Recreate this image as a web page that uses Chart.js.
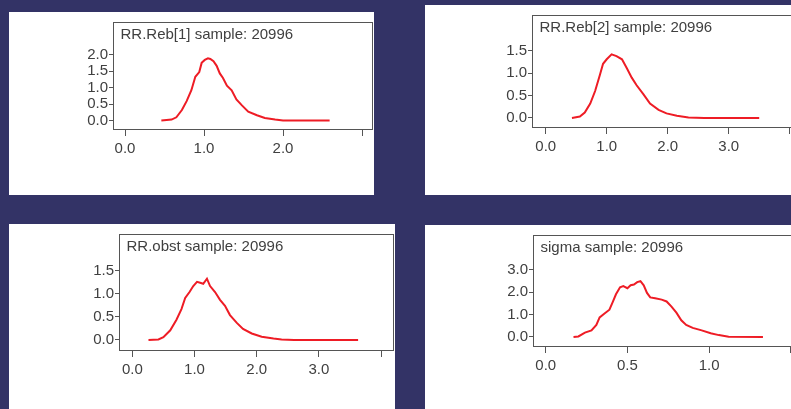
<!DOCTYPE html>
<html>
<head>
<meta charset="utf-8">
<script src="https://cdn.jsdelivr.net/npm/chart.js"></script>
<style>
  html, body { margin: 0; padding: 0; }
  body { width: 791px; height: 409px; background: #333366; overflow: hidden; position: relative; }
  .panel { position: absolute; background: #fff; overflow: hidden; }
  .panel canvas { display: block; }
</style>
</head>
<body>
<div class="panel" id="p1" style="left:9px;top:12px;width:365px;height:183px"><canvas id="c1" width="365" height="183"></canvas></div>
<div class="panel" id="p2" style="left:425px;top:5px;width:370px;height:190px"><canvas id="c2" width="370" height="190"></canvas></div>
<div class="panel" id="p3" style="left:9px;top:224px;width:386px;height:185px"><canvas id="c3" width="386" height="185"></canvas></div>
<div class="panel" id="p4" style="left:425px;top:225px;width:370px;height:184px"><canvas id="c4" width="370" height="184"></canvas></div>
<script>
// density estimates
const reb1X = [0.46, 0.59, 0.65, 0.72, 0.78, 0.84, 0.89, 0.94, 0.97, 1.01, 1.05, 1.08, 1.12, 1.16, 1.20, 1.24, 1.29, 1.35, 1.41, 1.48, 1.56, 1.67, 1.77, 1.90, 2.00, 2.59];
const reb1Y = [0.00, 0.03, 0.10, 0.32, 0.59, 0.92, 1.33, 1.47, 1.75, 1.84, 1.89, 1.87, 1.80, 1.66, 1.43, 1.29, 1.06, 0.92, 0.64, 0.46, 0.27, 0.16, 0.08, 0.03, 0.00, 0.00];

const reb2X = [0.43, 0.56, 0.64, 0.73, 0.81, 0.89, 0.94, 1.00, 1.08, 1.16, 1.25, 1.33, 1.41, 1.49, 1.60, 1.71, 1.85, 1.98, 2.15, 2.34, 2.60, 3.50];
const reb2Y = [0.00, 0.03, 0.12, 0.32, 0.60, 0.97, 1.21, 1.31, 1.42, 1.38, 1.31, 1.11, 0.90, 0.73, 0.53, 0.32, 0.18, 0.10, 0.05, 0.01, 0.00, 0.00];

const obstX = [0.26, 0.42, 0.50, 0.61, 0.71, 0.79, 0.85, 0.92, 0.98, 1.04, 1.09, 1.14, 1.20, 1.25, 1.33, 1.41, 1.49, 1.57, 1.68, 1.78, 1.92, 2.08, 2.27, 2.40, 2.60, 3.63];
const obstY = [0.00, 0.01, 0.06, 0.21, 0.44, 0.67, 0.91, 1.04, 1.17, 1.26, 1.24, 1.22, 1.33, 1.17, 1.04, 0.87, 0.74, 0.54, 0.37, 0.24, 0.14, 0.07, 0.03, 0.01, 0.00, 0.00];

const sigmaX = [0.17, 0.20, 0.24, 0.28, 0.31, 0.33, 0.36, 0.39, 0.41, 0.43, 0.455, 0.475, 0.50, 0.52, 0.54, 0.56, 0.58, 0.60, 0.62, 0.64, 0.67, 0.71, 0.74, 0.77, 0.80, 0.83, 0.86, 0.90, 0.955, 1.01, 1.06, 1.12, 1.33];
const sigmaY = [0.00, 0.02, 0.19, 0.29, 0.53, 0.87, 1.04, 1.21, 1.55, 1.90, 2.21, 2.26, 2.17, 2.30, 2.33, 2.44, 2.48, 2.30, 1.96, 1.76, 1.72, 1.66, 1.58, 1.35, 1.08, 0.74, 0.53, 0.40, 0.29, 0.16, 0.08, 0.01, 0.00];

// tick values and labels
const xTicksA = [0, 1, 2, 3];
const xLabelsA = ['0.0', '1.0', '2.0', ''];
const xTicksB = [0, 1, 2, 3, 4];
const xLabelsB = ['0.0', '1.0', '2.0', '3.0', ''];
const xTicksSigma = [0, 0.5, 1, 1.5];
const xLabelsSigma = ['0.0', '0.5', '1.0', ''];
const yTicksA = [0, 0.5, 1, 1.5, 2];
const yLabelsA = ['0.0', '0.5', '1.0', '1.5', '2.0'];
const yTicksB = [0, 0.5, 1, 1.5];
const yLabelsB = ['0.0', '0.5', '1.0', '1.5'];
const yTicksSigma = [0, 1, 2, 3];
const yLabelsSigma = ['0.0', '1.0', '2.0', '3.0'];

const titles = ['RR.Reb[1] sample: 20996', 'RR.Reb[2] sample: 20996', 'RR.obst sample: 20996', 'sigma sample: 20996'];

const FONT = 'Liberation Sans, Arial, sans-serif';
const TEXT = '#404040';
const AXIS = '#555';

// frame round the plot area plus the title inside it
const boxPlugin = {
  id: 'box',
  afterDraw(chart, args, opts) {
    const a = chart.chartArea;
    const c = chart.ctx;
    c.save();
    c.strokeStyle = AXIS;
    c.lineWidth = 1;
    c.strokeRect(a.left + 0.5, a.top + 0.5, a.right - a.left - 1, a.bottom - a.top - 1);
    c.fillStyle = TEXT;
    c.font = '15px ' + FONT;
    c.textBaseline = 'alphabetic';
    c.fillText(opts.text, a.left + 7.5, a.top + 17);
    c.restore();
  }
};

function makePanel(id, title, xs, ys, p) {
  const pts = xs.map((x, i) => ({ x: x, y: ys[i] }));
  return new Chart(document.getElementById(id).getContext('2d'), {
    type: 'line',
    data: {
      datasets: [{
        data: pts,
        borderColor: '#ee1c25',
        borderWidth: 2,
        pointRadius: 0,
        tension: 0,
        fill: false
      }]
    },
    options: {
      responsive: false,
      animation: false,
      events: [],
      layout: { padding: { left: 0, top: 0, right: p.padRight, bottom: 0 } },
      scales: {
        x: {
          type: 'linear',
          min: p.xMin, max: p.xMax,
          afterBuildTicks: s => { s.ticks = p.xTicks.map(v => ({ value: v })); },
          afterFit: s => { s.height = p.xHeight; },
          ticks: {
            autoSkip: false, maxRotation: 0, padding: 4,
            color: TEXT, font: { size: 15, family: FONT },
            callback: (v, i) => p.xLabels[i]
          },
          grid: { drawOnChartArea: false, tickLength: 6, color: AXIS },
          border: { display: false }
        },
        y: {
          type: 'linear',
          min: p.yMin, max: p.yMax,
          afterBuildTicks: s => { s.ticks = p.yTicks.map(v => ({ value: v })); },
          afterFit: s => { s.width = p.yWidth; },
          ticks: {
            autoSkip: false, padding: 1,
            color: TEXT, font: { size: 15, family: FONT },
            callback: (v, i) => p.yLabels[i]
          },
          grid: { drawOnChartArea: false, tickLength: 4, color: AXIS },
          border: { display: false }
        }
      },
      plugins: {
        legend: { display: false },
        tooltip: { enabled: false },
        box: { text: title }
      }
    },
    plugins: [boxPlugin]
  });
}

makePanel('c1', titles[0], reb1X, reb1Y, {
  xMin: -0.152, xMax: 3.139, yMin: -0.286, yMax: 2.99,
  xTicks: xTicksA, xLabels: xLabelsA, yTicks: yTicksA, yLabels: yLabelsA,
  yWidth: 104, xHeight: 65, padRight: 1
});
makePanel('c2', titles[1], reb2X, reb2Y, {
  xMin: -0.225, xMax: 4.054, yMin: -0.226, yMax: 2.30,
  xTicks: xTicksB, xLabels: xLabelsB, yTicks: yTicksB, yLabels: yLabelsB,
  yWidth: 107, xHeight: 67, padRight: 2
});
makePanel('c3', titles[2], obstX, obstY, {
  xMin: -0.214, xMax: 4.207, yMin: -0.24, yMax: 2.30,
  xTicks: xTicksB, xLabels: xLabelsB, yTicks: yTicksB, yLabels: yLabelsB,
  yWidth: 110, xHeight: 58, padRight: 1
});
makePanel('c4', titles[3], sigmaX, sigmaY, {
  xMin: -0.078, xMax: 1.514, yMin: -0.45, yMax: 4.54,
  xTicks: xTicksSigma, xLabels: xLabelsSigma, yTicks: yTicksSigma, yLabels: yLabelsSigma,
  yWidth: 108, xHeight: 62, padRight: 2
});
</script>
</body>
</html>
